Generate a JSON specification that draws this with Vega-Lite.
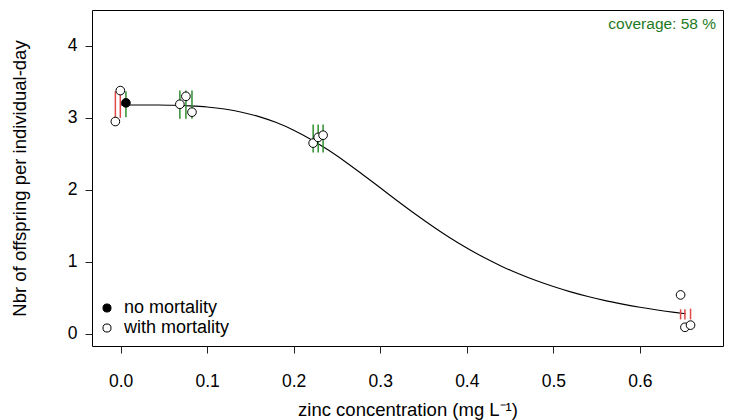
{
  "$schema": "https://vega.github.io/schema/vega-lite/v6.json",
  "width": 631,
  "height": 336,
  "autosize": {"type": "none"},
  "padding": {"left": 92, "top": 10, "right": 15, "bottom": 74},
  "background": "white",
  "config": {
    "view": {"stroke": "black", "strokeWidth": 1},
    "font": "Liberation Sans",
    "axis": {
      "domain": false,
      "grid": false,
      "tickColor": "#222",
      "tickSize": 7,
      "labelFont": "Liberation Sans",
      "labelFontSize": 17.5,
      "labelColor": "black",
      "titleFont": "Liberation Sans",
      "titleFontSize": 18.5,
      "titleFontWeight": "normal",
      "titleColor": "black"
    },
    "legend": {
      "labelFont": "Liberation Sans",
      "labelFontSize": 18,
      "labelColor": "black"
    }
  },
  "datasets": {
    "curve": [
      {"conc": 0.0, "fit": 3.18},
      {"conc": 0.02, "fit": 3.18},
      {"conc": 0.04, "fit": 3.179},
      {"conc": 0.06, "fit": 3.176},
      {"conc": 0.08, "fit": 3.167},
      {"conc": 0.10, "fit": 3.151},
      {"conc": 0.12, "fit": 3.123},
      {"conc": 0.14, "fit": 3.080},
      {"conc": 0.16, "fit": 3.018},
      {"conc": 0.18, "fit": 2.935},
      {"conc": 0.20, "fit": 2.829},
      {"conc": 0.22, "fit": 2.701},
      {"conc": 0.24, "fit": 2.553},
      {"conc": 0.26, "fit": 2.388},
      {"conc": 0.28, "fit": 2.211},
      {"conc": 0.30, "fit": 2.029},
      {"conc": 0.32, "fit": 1.846},
      {"conc": 0.34, "fit": 1.668},
      {"conc": 0.36, "fit": 1.498},
      {"conc": 0.38, "fit": 1.338},
      {"conc": 0.40, "fit": 1.192},
      {"conc": 0.42, "fit": 1.059},
      {"conc": 0.44, "fit": 0.940},
      {"conc": 0.46, "fit": 0.833},
      {"conc": 0.48, "fit": 0.739},
      {"conc": 0.50, "fit": 0.656},
      {"conc": 0.52, "fit": 0.582},
      {"conc": 0.54, "fit": 0.518},
      {"conc": 0.56, "fit": 0.461},
      {"conc": 0.58, "fit": 0.412},
      {"conc": 0.60, "fit": 0.368},
      {"conc": 0.62, "fit": 0.330},
      {"conc": 0.64, "fit": 0.297},
      {"conc": 0.653, "fit": 0.278}
    ],
    "reps": [
      {"conc": -0.006, "obs": 2.95, "lo": 3.00, "hi": 3.37, "inside": "no", "mortality": "with mortality"},
      {"conc": -0.0003, "obs": 3.38, "lo": 3.00, "hi": 3.37, "inside": "no", "mortality": "with mortality"},
      {"conc": 0.0062, "obs": 3.21, "lo": 3.01, "hi": 3.37, "inside": "yes", "mortality": "no mortality"},
      {"conc": 0.0685, "obs": 3.19, "lo": 2.99, "hi": 3.38, "inside": "yes", "mortality": "with mortality"},
      {"conc": 0.0755, "obs": 3.30, "lo": 2.99, "hi": 3.38, "inside": "yes", "mortality": "with mortality"},
      {"conc": 0.0825, "obs": 3.08, "lo": 2.99, "hi": 3.38, "inside": "yes", "mortality": "with mortality"},
      {"conc": 0.2225, "obs": 2.65, "lo": 2.52, "hi": 2.91, "inside": "yes", "mortality": "with mortality"},
      {"conc": 0.2283, "obs": 2.73, "lo": 2.52, "hi": 2.91, "inside": "yes", "mortality": "with mortality"},
      {"conc": 0.234, "obs": 2.76, "lo": 2.52, "hi": 2.91, "inside": "yes", "mortality": "with mortality"},
      {"conc": 0.647, "obs": 0.54, "lo": 0.20, "hi": 0.34, "inside": "no", "mortality": "with mortality"},
      {"conc": 0.652, "obs": 0.09, "lo": 0.20, "hi": 0.34, "inside": "no", "mortality": "with mortality"},
      {"conc": 0.6585, "obs": 0.12, "lo": 0.20, "hi": 0.35, "inside": "no", "mortality": "with mortality"}
    ]
  },
  "layer": [
    {
      "data": {"name": "curve"},
      "mark": {"type": "line", "color": "black", "strokeWidth": 1.1, "interpolate": "monotone"},
      "encoding": {
        "x": {
          "field": "conc", "type": "quantitative",
          "scale": {"domain": [-0.033, 0.696], "nice": false, "zero": false},
          "axis": {"values": [0, 0.1, 0.2, 0.3, 0.4, 0.5, 0.6], "format": ".1f", "labelPadding": 19, "title": "zinc concentration (mg L⁻¹)", "titlePadding": 11, "labelFlush": false}
        },
        "y": {
          "field": "fit", "type": "quantitative",
          "scale": {"domain": [-0.17, 4.5], "nice": false, "zero": false},
          "axis": {"values": [0, 1, 2, 3, 4], "format": "d", "labelPadding": 8, "title": "Nbr of offspring per individual-day", "titlePadding": 38}
        }
      }
    },
    {
      "data": {"name": "reps"},
      "mark": {"type": "rule", "strokeWidth": 1.5},
      "encoding": {
        "x": {"field": "conc", "type": "quantitative"},
        "y": {"field": "lo", "type": "quantitative"},
        "y2": {"field": "hi"},
        "color": {
          "field": "inside", "type": "nominal",
          "scale": {"domain": ["yes", "no"], "range": ["#2f8f2f", "#e04848"]},
          "legend": null
        }
      }
    },
    {
      "data": {"name": "reps"},
      "mark": {"type": "point", "shape": "circle", "filled": false, "stroke": "black", "strokeWidth": 1, "size": 75, "opacity": 1},
      "encoding": {
        "x": {"field": "conc", "type": "quantitative"},
        "y": {"field": "obs", "type": "quantitative"},
        "fill": {
          "field": "mortality", "type": "nominal",
          "scale": {"domain": ["no mortality", "with mortality"], "range": ["black", "white"]},
          "legend": {
            "title": null,
            "orient": "none",
            "legendX": 6,
            "legendY": 289,
            "symbolType": "circle",
            "symbolStrokeColor": "black",
            "symbolStrokeWidth": 1,
            "symbolSize": 65,
            "symbolFillColor": "white",
            "labelOffset": 8,
            "rowPadding": 2
          }
        }
      }
    },
    {
      "data": {"values": [{"label": "coverage: 58 %"}]},
      "mark": {"type": "text", "align": "right", "baseline": "middle", "fontSize": 15.5, "color": "#1f7a1f", "font": "Liberation Sans"},
      "encoding": {
        "x": {"datum": 0.688},
        "y": {"datum": 4.31},
        "text": {"field": "label"}
      }
    }
  ]
}
